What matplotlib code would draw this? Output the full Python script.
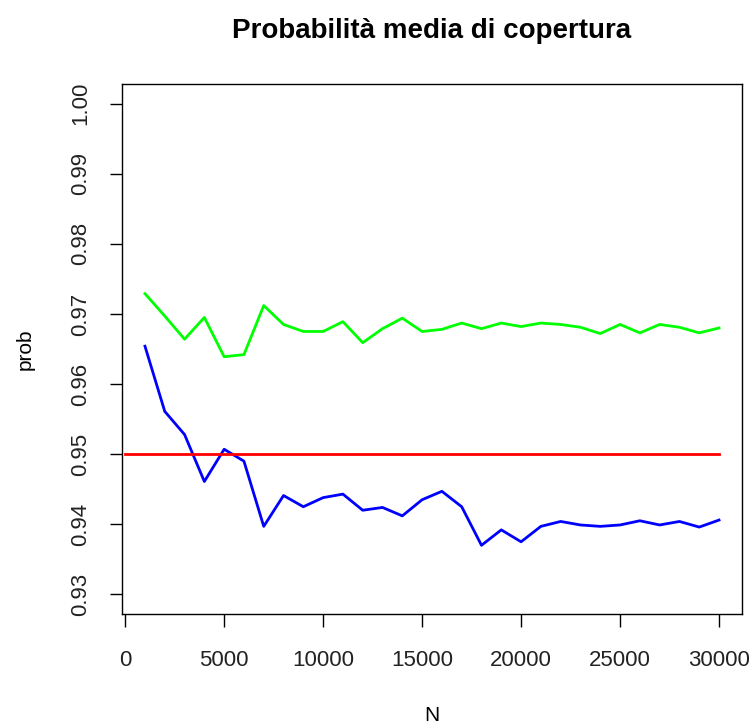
import matplotlib
matplotlib.use("Agg")
import matplotlib.pyplot as plt

plt.rcParams['font.family'] = ['Liberation Sans', 'DejaVu Sans']

# sample sizes
N = [1000 * k for k in range(1, 31)]

# mean coverage probability, two methods
prob_green = [0.9729, 0.9697, 0.9664, 0.9695, 0.9639, 0.9642, 0.9712, 0.9685, 0.9675, 0.9675,
              0.9689, 0.9659, 0.9679, 0.9694, 0.9675, 0.9678, 0.9687, 0.9679, 0.9687, 0.9682,
              0.9687, 0.9685, 0.9681, 0.9672, 0.9685, 0.9673, 0.9685, 0.9681, 0.9673, 0.9680]
prob_blue = [0.9654, 0.9561, 0.9528, 0.9461, 0.9507, 0.9490, 0.9397, 0.9441, 0.9425, 0.9438,
             0.9443, 0.9420, 0.9424, 0.9412, 0.9435, 0.9447, 0.9425, 0.9370, 0.9392, 0.9375,
             0.9397, 0.9404, 0.9399, 0.9397, 0.9399, 0.9405, 0.9399, 0.9404, 0.9396, 0.9406]

# nominal level
nominal_x = [0, 30000]
nominal_y = [0.95, 0.95]

xticks = [0, 5000, 10000, 15000, 20000, 25000, 30000]
yticks = [0.93, 0.94, 0.95, 0.96, 0.97, 0.98, 0.99, 1.00]

fig = plt.figure(figsize=(7.54, 7.27), dpi=100)
ax = fig.add_axes([122/754, 113/727, 620/754, 530/727])

ax.plot(N, prob_green, color='#00FF00', lw=2)
ax.plot(N, prob_blue, color='#0000FF', lw=2)
ax.plot(nominal_x, nominal_y, color='#FF0000', lw=2)

ax.set_xlim(-160, 31160)
ax.set_ylim(0.9272, 1.0028)
ax.set_xticks(xticks)
ax.set_xticklabels([str(t) for t in xticks])
ax.set_yticks(yticks)
ax.set_yticklabels(['%.2f' % t for t in yticks], rotation=90, va='center')

ax.tick_params(direction='out', length=9, width=1, labelsize=16, color='black',
               labelcolor='#222222')
ax.tick_params(axis='x', pad=17)
ax.tick_params(axis='y', pad=13)
for s in ax.spines.values():
    s.set_linewidth(1)

ax.set_title('Probabilità media di copertura', fontsize=20, fontweight='bold', pad=33)
ax.set_xlabel('N', fontsize=15, labelpad=25)
ax.set_ylabel('prob', fontsize=15, labelpad=26)

fig.savefig('out.png', dpi=100)
